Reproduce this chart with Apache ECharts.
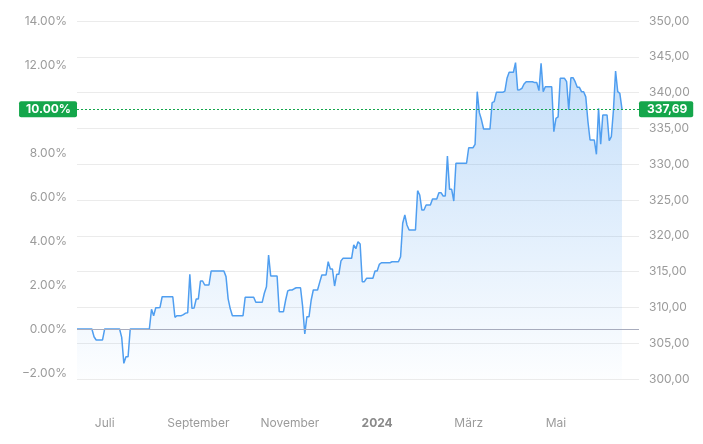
<!DOCTYPE html>
<html>
<head>
<meta charset="utf-8">
<script src="https://cdn.jsdelivr.net/npm/echarts@6/dist/echarts.min.js"></script>
<style>
  html, body { margin: 0; padding: 0; background: #fff; }
  #chart { width: 703px; height: 444px; }
</style>
</head>
<body>
<div id="chart"></div>
<script>
// trading days (Xetra calendar) shown on the axis
const startDate = '2023-06-14'
const endDate = '2024-06-26'
const holidays = ['2023-12-25', '2023-12-26', '2024-01-01', '2024-03-29', '2024-04-01', '2024-05-01']

// month labels on the x axis
const tickMonths = ['2023-07', '2023-09', '2023-11', '2024-01', '2024-03', '2024-05']
const tickLabels = ['Juli', 'September', 'November', '2024', 'März', 'Mai']

// closing prices, one per trading day from 2023-06-14
const prices = [
  306.99, 306.99, 306.99, 306.99, 306.99, 306.99, 306.99, 306.99, 305.9, 305.45,
  305.45, 305.45, 305.45, 306.99, 306.99, 306.99, 306.99, 306.99, 306.99, 306.99,
  306.99, 305.82, 302.19, 303.11, 303.11, 306.99, 306.99, 306.99, 306.99, 306.99,
  306.99, 306.99, 306.99, 306.99, 306.99, 309.73, 308.84, 309.96, 309.96, 310.0,
  311.49, 311.49, 311.49, 311.49, 311.49, 311.49, 308.62, 308.84, 308.84, 308.84,
  309.0, 309.2, 309.26, 314.62, 309.87, 309.9, 311.17, 311.17, 313.69, 313.69,
  313.13, 313.13, 313.13, 315.08, 315.08, 315.08, 315.08, 315.08, 315.08, 315.08,
  314.3, 311.2, 309.8, 308.84, 308.84, 308.84, 308.84, 308.84, 308.84, 311.41,
  311.41, 311.41, 311.41, 311.41, 310.71, 310.71, 310.71, 310.71, 311.97, 312.89,
  317.32, 314.39, 314.39, 314.39, 314.39, 309.4, 309.4, 309.4, 311.0, 312.3,
  312.43, 312.43, 312.6, 312.75, 312.75, 312.75, 310.1, 306.3, 308.7, 308.7,
  311.0, 312.43, 312.43, 312.43, 313.5, 314.53, 314.53, 314.53, 316.38, 315.36,
  315.36, 312.99, 314.62, 314.62, 316.5, 316.86, 316.86, 316.86, 316.86, 316.86,
  318.72, 318.2, 319.18, 318.85, 313.59, 313.59, 314.06, 314.06, 314.06, 314.06,
  315.08, 315.08, 316.0, 316.24, 316.24, 316.24, 316.24, 316.24, 316.38, 316.38,
  316.38, 316.38, 317.08, 321.75, 322.91, 321.51, 320.81, 320.81, 320.81, 320.81,
  326.3, 325.7, 323.6, 323.6, 324.3, 324.3, 324.3, 325.14, 325.14, 325.14,
  326.02, 326.02, 325.56, 325.56, 331.15, 326.49, 326.49, 324.86, 330.13, 330.13,
  330.13, 330.13, 330.13, 330.13, 332.3, 332.3, 332.3, 332.78, 340.13, 337.2,
  336.2, 334.92, 334.92, 334.92, 334.92, 338.59, 338.73, 340.04, 340.04, 340.04,
  340.04, 340.2, 342.0, 342.84, 342.84, 342.84, 344.18, 340.36, 340.4, 340.6,
  341.2, 341.52, 341.52, 341.52, 341.52, 341.4, 341.4, 340.27, 344.09, 340.13,
  340.82, 340.82, 340.82, 340.82, 334.54, 336.41, 336.6, 342.0, 342.0, 342.0,
  341.52, 337.57, 342.08, 342.08, 341.52, 340.74, 340.74, 340.13, 340.13, 339.4,
  336.0, 333.38, 333.38, 333.38, 331.38, 337.81, 332.78, 336.87, 336.87, 336.87,
  333.28, 333.84, 337.57, 343.02, 340.13, 339.9, 337.69
]

const lastPrice = prices[prices.length - 1]
const perfPct = 10.0
const basePrice = lastPrice / (1 + perfPct / 100)

const priceMin = 300
const priceMax = 350
const pctTicks = [-2, 0, 2, 4, 6, 8, 10, 12, 14]

function tradingDays(from, to) {
  const out = []
  const d = new Date(from + 'T00:00:00Z')
  const end = new Date(to + 'T00:00:00Z')
  while (d <= end) {
    const s = d.toISOString().slice(0, 10)
    const wd = d.getUTCDay()
    if (wd !== 0 && wd !== 6 && holidays.indexOf(s) < 0) out.push(s)
    d.setUTCDate(d.getUTCDate() + 1)
  }
  return out
}

const days = tradingDays(startDate, endDate)
const toPct = v => (v / basePrice - 1) * 100

const fontFamily = 'Inter, "Noto Sans", sans-serif'
const green = '#14a64b'
const lineColor = '#4f9ef0'

const chart = echarts.init(document.getElementById('chart'))
chart.setOption({
  animation: false,
  backgroundColor: '#fff',
  textStyle: { fontFamily },
  grid: { left: 77, right: 64, top: 21, bottom: 65 },
  xAxis: {
    type: 'category',
    data: days,
    boundaryGap: false,
    axisLine: { show: false },
    axisTick: { show: false },
    splitLine: { show: false },
    axisLabel: {
      margin: 38,
      color: '#9b9b9b',
      fontSize: 12,
      fontFamily,
      interval: (idx, val) => {
        if (idx === 0) return false
        const m = val.slice(0, 7)
        return m !== days[idx - 1].slice(0, 7) && tickMonths.indexOf(m) >= 0
      },
      formatter: val => {
        const i = tickMonths.indexOf(val.slice(0, 7))
        if (i < 0) return ''
        return /^\d+$/.test(tickLabels[i]) ? '{y|' + tickLabels[i] + '}' : tickLabels[i]
      },
      rich: {
        y: { fontWeight: 'bold', color: '#8a8a8a', fontSize: 12, fontFamily }
      }
    }
  },
  yAxis: [{
    type: 'value',
    position: 'left',
    min: toPct(priceMin),
    max: toPct(priceMax),
    axisLine: { show: false },
    axisTick: { show: false },
    splitLine: { show: false },
    axisLabel: {
      margin: 10,
      color: '#9b9b9b',
      fontSize: 12,
      fontFamily,
      customValues: pctTicks,
      formatter: v => (v < 0 ? '−' : '') + Math.abs(v).toFixed(2) + '%'
    }
  }, {
    type: 'value',
    position: 'right',
    min: priceMin,
    max: priceMax,
    interval: 5,
    axisLine: { show: false },
    axisTick: { show: false },
    splitLine: { show: true, lineStyle: { color: '#ebebeb', width: 1 } },
    axisLabel: {
      margin: 10,
      color: '#9b9b9b',
      fontSize: 12,
      fontFamily,
      formatter: v => v.toFixed(2).replace('.', ',')
    }
  }],
  series: [{
    name: 'Kurs',
    type: 'line',
    yAxisIndex: 1,
    data: prices,
    showSymbol: false,
    symbol: 'none',
    lineStyle: { color: lineColor, width: 1.5 },
    areaStyle: {
      origin: 'start',
      color: new echarts.graphic.LinearGradient(0, 0, 0, 1, [
        { offset: 0, color: 'rgba(79,158,240,0.48)' },
        { offset: 1, color: 'rgba(79,158,240,0.02)' }
      ])
    },
    markLine: {
      silent: true,
      symbol: 'none',
      animation: false,
      data: [{
        yAxis: basePrice,
        lineStyle: { color: '#a8acbd', type: 'solid', width: 1 },
        label: { show: false }
      }, {
        yAxis: lastPrice,
        lineStyle: { color: green, type: [2, 2], width: 1 },
        label: {
          show: true,
          position: 'start',
          distance: 0,
          formatter: toPct(lastPrice).toFixed(2) + '%',
          color: '#fff',
          fontWeight: 'bold',
          fontSize: 12,
          fontFamily,
          backgroundColor: green,
          padding: [2, 6, 2, 7],
          lineHeight: 12,
          borderRadius: 2
        }
      }, {
        yAxis: lastPrice,
        lineStyle: { color: green, type: [2, 2], width: 1 },
        label: {
          show: true,
          position: 'end',
          distance: 0,
          formatter: lastPrice.toFixed(2).replace('.', ','),
          color: '#fff',
          fontWeight: 'bold',
          fontSize: 12,
          fontFamily,
          backgroundColor: green,
          padding: [2, 6, 2, 8],
          lineHeight: 12,
          borderRadius: 2
        }
      }]
    }
  }]
})
</script>
</body>
</html>
